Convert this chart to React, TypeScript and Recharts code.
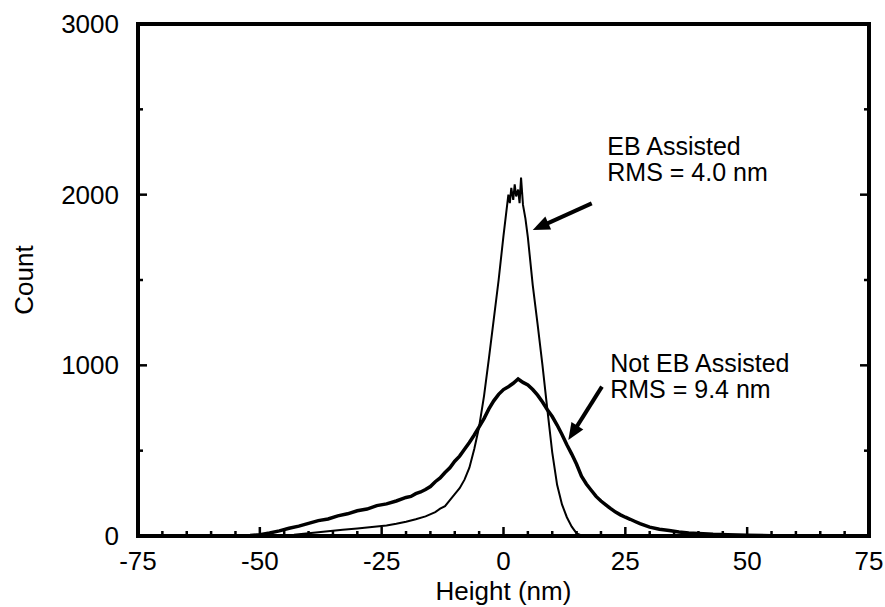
import React from 'react';
import { LineChart, Line, XAxis, YAxis, ReferenceLine, ReferenceDot } from 'recharts';

const FONT = "'Liberation Sans', Arial, Helvetica, sans-serif";
const FS = 26;
const ANNO_FS = 25;

// Tick values
const xTicks = [-75, -70, -65, -60, -55, -50, -45, -40, -35, -30, -25, -20, -15, -10, -5, 0, 5, 10, 15, 20, 25, 30, 35, 40, 45, 50, 55, 60, 65, 70, 75];
const xMajorTicks = [-75, -50, -25, 0, 25, 50, 75];
const yTicks = [0, 500, 1000, 1500, 2000, 2500, 3000];
const yMajorTicks = [0, 1000, 2000, 3000];

// EB Assisted (narrow histogram)
const ebHeight = [-50, -46, -43, -40, -36, -33, -30, -28, -26, -24, -22, -20, -18, -16, -14, -13, -12, -11, -10, -9, -8, -7, -6, -5, -4, -3, -2, -1, 0, 0.5, 1, 1.3, 1.6, 2, 2.3, 2.6, 3, 3.3, 3.6, 4, 4.5, 5, 6, 7, 8, 9, 10, 11, 12, 13, 14, 15, 16, 20];
const ebCount = [0, 2, 8, 16, 28, 36, 44, 50, 56, 62, 72, 84, 98, 115, 140, 160, 175, 210, 245, 280, 330, 400, 510, 640, 820, 1040, 1270, 1500, 1760, 1880, 2000, 1950, 2040, 1970, 2060, 1990, 2030, 1950, 2100, 1940, 1860, 1750, 1470, 1240, 1000, 740, 490, 300, 185, 110, 55, 15, 3, 0];

// Not EB Assisted (broad histogram)
const notEbHeight = [-56, -52, -50, -48, -46, -44, -42, -40, -38, -36, -34, -32, -30, -28, -26, -24, -22, -20, -19, -18, -17, -16, -15, -14, -13, -12, -11, -10, -9, -8, -7, -6, -5, -4, -3, -2, -1, 0, 1, 2, 3, 4, 5, 6, 7, 8, 9, 10, 11, 12, 13, 14, 15, 16, 17, 18, 19, 20, 21, 22, 23, 24, 25, 26, 27, 28, 29, 30, 32, 34, 36, 38, 40, 43, 46, 50, 55, 60];
const notEbCount = [0, 3, 8, 18, 30, 45, 58, 74, 90, 100, 118, 130, 148, 158, 178, 188, 205, 226, 232, 248, 258, 272, 290, 318, 340, 372, 400, 438, 468, 508, 548, 592, 640, 688, 745, 792, 830, 858, 875, 895, 920, 900, 885, 858, 825, 785, 740, 700, 650, 595, 535, 480, 420, 350, 305, 268, 232, 205, 182, 160, 140, 124, 110, 98, 85, 72, 62, 52, 40, 32, 24, 18, 15, 10, 7, 4, 2, 0];

// Annotations (data coordinates)
const annoText = [
  { h: 21.3, c: 2232, lines: ['EB Assisted', 'RMS = 4.0 nm'] },
  { h: 21.9, c: 960, lines: ['Not EB Assisted', 'RMS = 9.4 nm'] },
];
const annoArrows = [
  { from: { x: 18.1, y: 1949 }, to: { x: 6.0, y: 1793 } },
  { from: { x: 20.2, y: 875 }, to: { x: 13.3, y: 562 } },
];

const ebData = ebHeight.map((h, i) => ({ h, c: ebCount[i] }));
const notEbData = notEbHeight.map((h, i) => ({ h, c: notEbCount[i] }));

const BottomTick = (props: any) => {
  const { x, y, payload } = props;
  const major = xMajorTicks.includes(payload.value);
  return (
    <g>
      <line x1={x} x2={x} y1={y} y2={y - (major ? 9 : 5)} stroke="#000" strokeWidth={2.5} />
      {major && (
        <text x={x} y={y + 34} textAnchor="middle" fontSize={FS} fontFamily={FONT} fill="#000">
          {payload.value}
        </text>
      )}
    </g>
  );
};

const TopTick = (props: any) => {
  const { x, y, payload } = props;
  const major = xMajorTicks.includes(payload.value);
  return <line x1={x} x2={x} y1={y} y2={y + (major ? 9 : 5)} stroke="#000" strokeWidth={2.5} />;
};

const LeftTick = (props: any) => {
  const { x, y, payload } = props;
  const major = yMajorTicks.includes(payload.value);
  return (
    <g>
      <line x1={x} x2={x + (major ? 9 : 5)} y1={y} y2={y} stroke="#000" strokeWidth={2.5} />
      {major && (
        <text x={x - 19} y={y + 9} textAnchor="end" fontSize={FS} fontFamily={FONT} fill="#000">
          {payload.value}
        </text>
      )}
    </g>
  );
};

const RightTick = (props: any) => {
  const { x, y, payload } = props;
  const major = yMajorTicks.includes(payload.value);
  return <line x1={x} x2={x - (major ? 9 : 5)} y1={y} y2={y} stroke="#000" strokeWidth={2.5} />;
};

const Arrow = (props: any) => {
  const { x1, y1, x2, y2 } = props;
  const dx = x2 - x1;
  const dy = y2 - y1;
  const len = Math.hypot(dx, dy) || 1;
  const ux = dx / len;
  const uy = dy / len;
  const hl = 17;
  const hw = 7;
  const bx = x2 - ux * hl;
  const by = y2 - uy * hl;
  return (
    <g>
      <line x1={x1} y1={y1} x2={bx + ux * 2} y2={by + uy * 2} stroke="#000" strokeWidth={4} />
      <polygon
        points={`${x2},${y2} ${bx - uy * hw},${by + ux * hw} ${bx + uy * hw},${by - ux * hw}`}
        fill="#000"
      />
    </g>
  );
};

const makeTextShape = (lines: string[]) => (props: any) => {
  const { cx, cy } = props;
  return (
    <g>
      {lines.map((t, i) => (
        <text key={i} x={cx} y={cy + i * 26} fontSize={ANNO_FS} fontFamily={FONT} fill="#000">
          {t}
        </text>
      ))}
    </g>
  );
};

const CountLabel = (props: any) => {
  const vb = props.viewBox || { x: 137, y: 24, width: 1, height: 512 };
  const x = vb.x + (vb.width || 0) - 105;
  const y = vb.y + vb.height / 2;
  return (
    <text x={x} y={y} transform={`rotate(-90, ${x}, ${y})`} textAnchor="middle" fontSize={FS} fontFamily={FONT} fill="#000">
      Count
    </text>
  );
};

const HeightLabel = (props: any) => {
  const vb = props.viewBox || { x: 138, y: 536, width: 731 };
  const x = vb.x + vb.width / 2;
  const y = vb.y + 64;
  return (
    <text x={x} y={y} textAnchor="middle" fontSize={FS} fontFamily={FONT} fill="#000">
      Height (nm)
    </text>
  );
};

const axisLineStyle = { stroke: '#000', strokeWidth: 4, strokeLinecap: 'square' as const };

export default function App() {
  return (
    <div style={{ position: 'absolute', left: 0, top: 0, width: 885, height: 607, background: '#fff' }}>
      <LineChart width={885} height={607} margin={{ top: 23, right: 15, bottom: 70, left: 137 }}>
        <XAxis
          dataKey="h"
          type="number"
          domain={[-75, 75]}
          ticks={xTicks}
          interval={0}
          allowDataOverflow
          height={1}
          tickSize={0}
          tickMargin={0}
          tickLine={false}
          axisLine={axisLineStyle}
          tick={<BottomTick />}
          label={{ content: <HeightLabel /> }}
        />
        <XAxis
          xAxisId="top"
          orientation="top"
          type="number"
          domain={[-75, 75]}
          ticks={xTicks}
          interval={0}
          allowDataOverflow
          height={1}
          tickSize={0}
          tickMargin={0}
          tickLine={false}
          axisLine={axisLineStyle}
          tick={<TopTick />}
        />
        <YAxis
          type="number"
          domain={[0, 3000]}
          ticks={yTicks}
          interval={0}
          allowDataOverflow
          width={1}
          tickSize={0}
          tickMargin={0}
          tickLine={false}
          axisLine={axisLineStyle}
          tick={<LeftTick />}
          label={{ content: <CountLabel /> }}
        />
        <YAxis
          yAxisId="right"
          orientation="right"
          type="number"
          domain={[0, 3000]}
          ticks={yTicks}
          interval={0}
          allowDataOverflow
          width={1}
          tickSize={0}
          tickMargin={0}
          tickLine={false}
          axisLine={axisLineStyle}
          tick={<RightTick />}
        />
        <Line
          data={notEbData}
          dataKey="c"
          type="linear"
          stroke="#000"
          strokeWidth={3.5}
          dot={false}
          isAnimationActive={false}
        />
        <Line
          data={ebData}
          dataKey="c"
          type="linear"
          stroke="#000"
          strokeWidth={2}
          dot={false}
          isAnimationActive={false}
        />
        {annoArrows.map((a, i) => (
          <ReferenceLine key={'a' + i} segment={[a.from, a.to]} ifOverflow="visible" shape={<Arrow />} />
        ))}
        {annoText.map((a, i) => (
          <ReferenceDot key={'t' + i} x={a.h} y={a.c} r={0} ifOverflow="visible" shape={makeTextShape(a.lines)} />
        ))}
      </LineChart>
    </div>
  );
}
